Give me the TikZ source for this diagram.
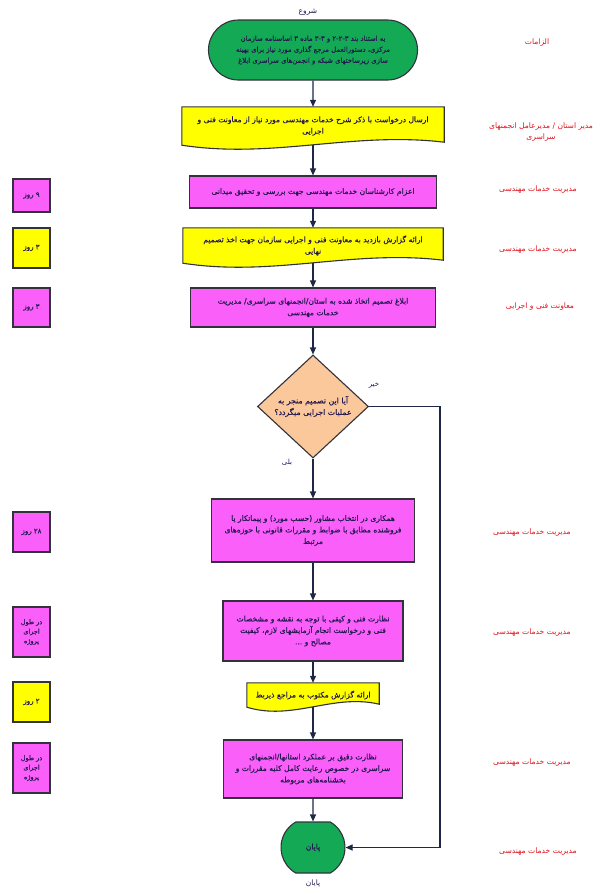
\documentclass[tikz,border=0pt]{standalone}
\usepackage{fontspec}
\usetikzlibrary{shapes.geometric,shapes.misc,arrows.meta,calc,backgrounds}
\TeXXeTstate=1
\newfontfamily\fafont[Script=Arabic]{DejaVu Sans}
\newfontfamily\fafontb[Script=Arabic,FakeBold=0.5]{DejaVu Sans}
\newcommand{\rtltext}[1]{\beginR #1\endR}
\definecolor{grnc}{RGB}{20,170,85}
\definecolor{yelc}{RGB}{255,255,0}
\definecolor{magc}{RGB}{250,95,250}
\definecolor{peachc}{RGB}{250,200,155}
\definecolor{bordc}{RGB}{50,50,60}
\definecolor{linec}{RGB}{30,40,70}
\definecolor{txtc}{RGB}{35,25,80}
\definecolor{redc}{RGB}{225,20,30}
\pgfdeclarelayer{bottom}
\pgfsetlayers{bottom,background,main}
\tikzset{
  boxfont/.style={font=\fafontb\fontsize{7.6}{11.5}\selectfont},
  base/.style={draw=bordc, line width=1.1pt, text=txtc, boxfont, align=center, inner sep=1pt},
  procbox/.style={base, rectangle, fill=magc},
  termbox/.style={base, rounded rectangle, fill=grnc},
  decbox/.style={base, diamond, fill=peachc, inner sep=0pt, aspect=1.08},
  docbox/.style={rectangle, inner sep=1pt, align=center, text=txtc, boxfont},
  docline/.style={draw=bordc, line width=1.1pt, fill=yelc},
  timebox/.style={base, rectangle, line width=1.3pt, minimum width=37, font=\fafontb\fontsize{7}{10.5}\selectfont},
  rolelabel/.style={text=redc, font=\fafont\fontsize{7.6}{11}\selectfont, align=center},
  plainlabel/.style={text=txtc, font=\fafont\fontsize{7.5}{9}\selectfont},
  branchlabel/.style={text=txtc!80!blue, font=\fafont\fontsize{7}{9}\selectfont},
  flow/.style={draw=linec, line width=1.1pt, -{Triangle[width=6pt,length=7pt]}},
}
\newcommand{\docwave}[1]{%
  \begin{pgfonlayer}{background}
    \path[docline] (#1.north west) -- (#1.north east) -- ($(#1.south east)+(0pt,3pt)$)
      .. controls ($(#1.south east)!0.35!(#1.south west)+(0pt,14pt)$) and ($(#1.south east)!0.65!(#1.south west)+(0pt,-14pt)$) .. (#1.south west) -- cycle;
  \end{pgfonlayer}}
\begin{document}
\begin{tikzpicture}[x=1pt,y=-1pt]
\begin{pgfonlayer}{bottom}
\fill[white] (0,0) rectangle (602,895);
\end{pgfonlayer}
\useasboundingbox (0,0) rectangle (602,895);

% ---- main flow ----
\node[plainlabel] (lstart) at (308,12) {\rtltext{شروع}};
\node[termbox, minimum width=211, minimum height=60, font=\fafontb\fontsize{6.9}{11}\selectfont] (start) at (313,50)
  {\rtltext{به استناد بند ۲-۲-۳ و ۳-۳ ماده ۳ اساسنامه سازمان}\\
   \rtltext{مرکزی، دستورالعمل مرجع گذاری مورد نیاز برای بهینه}\\
   \rtltext{سازی زیرساختهای شبکه و انجمن‌های سراسری ابلاغ}};

\node[docbox, minimum width=262, minimum height=38] (doc2) at (313,126)
  {\rtltext{ارسال درخواست با ذکر شرح خدمات مهندسی مورد نیاز از معاونت فنی و}\\
   \rtltext{اجرایی}};
\docwave{doc2}

\node[procbox, minimum width=247, minimum height=32] (box3) at (313,192)
  {\rtltext{اعزام کارشناسان خدمات مهندسی جهت بررسی و تحقیق میدانی}};

\node[docbox, minimum width=260, minimum height=35] (doc4) at (313,245.5)
  {\rtltext{ارائه گزارش بازدید به معاونت فنی و اجرایی سازمان جهت اخذ تصمیم}\\
   \rtltext{نهایی}};
\docwave{doc4}

\node[procbox, minimum width=245, minimum height=39] (box5) at (313,307.5)
  {\rtltext{ابلاغ تصمیم اتخاذ شده به استان/انجمنهای سراسری/ مدیریت}\\
   \rtltext{خدمات مهندسی}};

\node[decbox, minimum width=111, minimum height=103, font=\fafontb\fontsize{7.8}{11.5}\selectfont] (dia) at (313,406.5)
  {\rtltext{آیا این تصمیم منجر به}\\ \rtltext{عملیات اجرایی میگردد؟}};

\node[procbox, minimum width=203, minimum height=63] (box6) at (313,530.5)
  {\rtltext{همکاری در انتخاب مشاور (حسب مورد) و پیمانکار یا}\\
   \rtltext{فروشنده مطابق با ضوابط و مقررات قانونی با حوزه‌های}\\
   \rtltext{مرتبط}};

\node[procbox, minimum width=180, minimum height=60] (box7) at (313,631)
  {\rtltext{نظارت فنی و کیفی با توجه به نقشه و مشخصات}\\
   \rtltext{فنی و درخواست انجام آزمایشهای لازم، کیفیت}\\
   \rtltext{مصالح و ...}};

\node[docbox, minimum width=132, minimum height=24] (doc8) at (313,695)
  {\rtltext{ارائه گزارش مکتوب به مراجع ذیربط}};
\docwave{doc8}

\node[procbox, minimum width=179, minimum height=58] (box9) at (313,769)
  {\rtltext{نظارت دقیق بر عملکرد استانها/انجمنهای}\\
   \rtltext{سراسری در خصوص رعایت کامل کلیه مقررات و}\\
   \rtltext{بخشنامه‌های مربوطه}};

\node[termbox, rounded rectangle arc length=120, minimum width=66, minimum height=51] (fin) at (313,847.5)
  {\rtltext{پایان}};
\node[plainlabel] (lend) at (313,884) {\rtltext{پایان}};

% ---- connectors ----
\draw[flow] (start) -- (doc2);
\draw[flow] (doc2) -- (box3);
\draw[flow] (box3) -- (doc4);
\draw[flow] (doc4) -- (box5);
\draw[flow] (box5) -- (dia);
\draw[flow] (dia) -- (box6);
\draw[flow] (box6) -- (box7);
\draw[flow] (box7) -- (doc8);
\draw[flow] (doc8) -- (box9);
\draw[flow] (box9) -- (fin);
\coordinate (c1) at (440,406.5);
\coordinate (c2) at (440,847.5);
\draw[flow] (dia.east) -- (c1) -- (c2) -- (fin.east);
\node[branchlabel] (lno) at (374,385) {\rtltext{خیر}};
\node[branchlabel] (lyes) at (287,462) {\rtltext{بلی}};

% ---- time boxes ----
\node[timebox, fill=magc, minimum height=33] (t1) at (31.5,195.5) {\rtltext{۹ روز}};
\node[timebox, fill=yelc, minimum height=40] (t2) at (31.5,248) {\rtltext{۳ روز}};
\node[timebox, fill=magc, minimum height=39] (t3) at (31.5,307.5) {\rtltext{۳ روز}};
\node[timebox, fill=magc, minimum height=40] (t4) at (31.5,532) {\rtltext{۲۸ روز}};
\node[timebox, fill=magc, minimum height=50, font=\fafontb\fontsize{6.5}{9.5}\selectfont] (t5) at (31.5,632) {\rtltext{در طول}\\ \rtltext{اجرای}\\ \rtltext{پروژه}};
\node[timebox, fill=yelc, minimum height=40] (t6) at (31.5,702) {\rtltext{۲ روز}};
\node[timebox, fill=magc, minimum height=50, font=\fafontb\fontsize{6.5}{9.5}\selectfont] (t7) at (31.5,768) {\rtltext{در طول}\\ \rtltext{اجرای}\\ \rtltext{پروژه}};

% ---- role labels ----
\node[rolelabel] (r1) at (537,43) {\rtltext{الزامات}};
\node[rolelabel] (r2) at (541,132) {\rtltext{مدیر استان / مدیرعامل انجمنهای}\\ \rtltext{سراسری}};
\node[rolelabel] (r3) at (538,190) {\rtltext{مدیریت خدمات مهندسی}};
\node[rolelabel] (r4) at (538,250) {\rtltext{مدیریت خدمات مهندسی}};
\node[rolelabel] (r5) at (540,307) {\rtltext{معاونت فنی و اجرایی}};
\node[rolelabel] (r6) at (532,533) {\rtltext{مدیریت خدمات مهندسی}};
\node[rolelabel] (r7) at (532,633) {\rtltext{مدیریت خدمات مهندسی}};
\node[rolelabel] (r8) at (532,763) {\rtltext{مدیریت خدمات مهندسی}};
\node[rolelabel] (r9) at (538,852) {\rtltext{مدیریت خدمات مهندسی}};
\end{tikzpicture}
\end{document}
